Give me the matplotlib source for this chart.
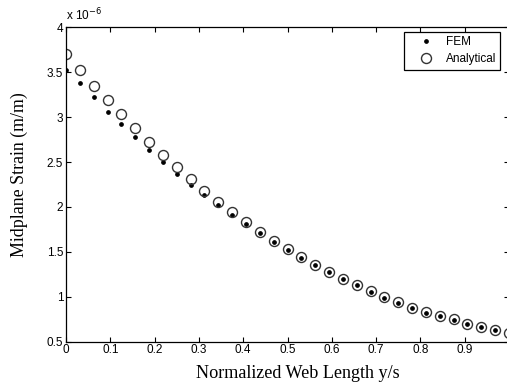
import matplotlib
matplotlib.use("Agg")
import matplotlib.pyplot as plt

# normalized web length y/s, sampled at k/32
web_pos = [k / 32 for k in range(33)]

# midplane strain, units of 1e-6 m/m
strain_fem = [3.52, 3.38, 3.225, 3.06, 2.92, 2.78, 2.63, 2.50, 2.37, 2.25,
              2.13, 2.025, 1.915, 1.81, 1.71, 1.612, 1.52, 1.432, 1.35, 1.272,
              1.196, 1.126, 1.056, 0.99, 0.935, 0.875, 0.823, 0.783, 0.746,
              0.698, 0.662, 0.628, 0.598]
strain_analytical = [3.70, 3.52, 3.35, 3.187, 3.031, 2.875, 2.72, 2.578, 2.448,
                     2.311, 2.18, 2.052, 1.94, 1.829, 1.724, 1.624, 1.528, 1.44,
                     1.357, 1.279, 1.201, 1.131, 1.061, 0.994, 0.939, 0.879,
                     0.827, 0.786, 0.749, 0.70, 0.664, 0.630, 0.60]

xticks = [0, 0.1, 0.2, 0.3, 0.4, 0.5, 0.6, 0.7, 0.8, 0.9]
yticks = [0.5, 1, 1.5, 2, 2.5, 3, 3.5, 4]

tick_font = "Liberation Sans"
label_font = "Liberation Serif"

fig = plt.figure(figsize=(5.07, 3.85), dpi=100)
ax = fig.add_axes([66 / 507, 0.1125, 443 / 507, 0.8165])

ax.plot(web_pos, strain_fem, linestyle="none", marker="o", markersize=2.4,
        color="black", label="FEM")
ax.plot(web_pos, strain_analytical, linestyle="none", marker="o", markersize=7.2,
        markerfacecolor="none", markeredgecolor="#333333", markeredgewidth=1.0,
        label="Analytical")

ax.set_xlim(0, 1)
ax.set_ylim(0.5, 4)
ax.set_xticks(xticks)
ax.set_xticklabels([f"{t:g}" for t in xticks], family=tick_font, fontsize=8.5)
ax.set_yticks(yticks)
ax.set_yticklabels([f"{t:g}" for t in yticks], family=tick_font, fontsize=8.5)
ax.tick_params(direction="in", length=3.6, width=0.8, top=True, right=True, pad=2)
for s in ax.spines.values():
    s.set_linewidth(0.9)

ax.set_xlabel("Normalized Web Length y/s", family=label_font, fontsize=13.1)
ax.set_ylabel("Midplane Strain (m/m)", family=label_font, fontsize=12.9)
ax.xaxis.set_label_coords(0.5226, -0.073)
ax.yaxis.set_label_coords(-0.086, 0.533)

ax.text(0, 1.012, "x 10$^{-6}$", transform=ax.transAxes, family=tick_font,
        fontsize=8.5, ha="left", va="bottom")

leg = ax.legend(loc="upper right", bbox_to_anchor=(0.980, 0.985), fancybox=False,
                edgecolor="black", framealpha=1, borderpad=0.35, labelspacing=0.45,
                handlelength=2.9, handletextpad=0.25, borderaxespad=0,
                prop={"family": tick_font, "size": 8.5})
leg.get_frame().set_linewidth(0.9)

fig.savefig("out.png", dpi=100)
